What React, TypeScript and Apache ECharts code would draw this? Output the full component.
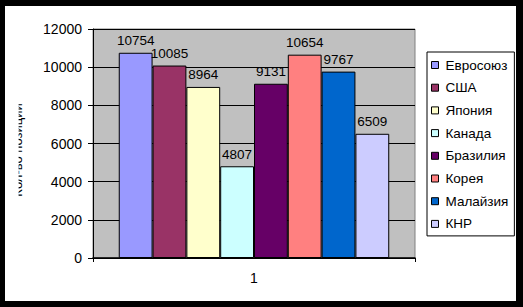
import React, { useEffect, useRef } from "react";
import * as echarts from "echarts";

const categories = ["1"];
const seriesNames = ["Евросоюз", "США", "Япония", "Канада", "Бразилия", "Корея", "Малайзия", "КНР"];
const seriesValues = [10754, 10085, 8964, 4807, 9131, 10654, 9767, 6509];
const seriesColors = ["#9999FF", "#993366", "#FFFFCC", "#CCFFFF", "#660066", "#FF8080", "#0066CC", "#CCCCFF"];
const yAxisTitle = "Кол-во позиций";

export default function App() {
  const ref = useRef<HTMLDivElement>(null);
  useEffect(() => {
    if (!ref.current) return;
    const chart = echarts.init(ref.current, null, { renderer: "svg" });
    const font = "Liberation Sans, Arial, sans-serif";
    chart.setOption({
      animation: false,
      backgroundColor: "transparent",
      textStyle: { fontFamily: font },
      grid: {
        left: 93,
        top: 29,
        right: 108,
        bottom: 49,
        show: true,
        backgroundColor: "#C0C0C0",
        borderColor: "#808080",
        borderWidth: 1,
      },
      legend: {
        orient: "vertical",
        left: 427,
        top: 52,
        width: 86,
        padding: [6, 6, 5, 4],
        itemGap: 8.7,
        itemWidth: 7,
        itemHeight: 7,
        icon: "rect",
        backgroundColor: "#fff",
        borderColor: "#000",
        borderWidth: 1,
        borderRadius: 0,
        itemStyle: { borderColor: "#000", borderWidth: 1 },
        textStyle: { fontSize: 13.5, color: "#000", fontFamily: font, padding: [0, 0, 0, 2] },
        data: seriesNames,
      },
      xAxis: {
        type: "category",
        data: categories,
        axisLine: { lineStyle: { color: "#000", width: 1.5 } },
        axisTick: { show: true, length: 4, lineStyle: { color: "#000" } },
        axisLabel: { fontSize: 14, color: "#000", margin: 13, fontFamily: font },
      },
      yAxis: {
        type: "value",
        min: 0,
        max: 12000,
        interval: 2000,
        axisLine: { show: true, lineStyle: { color: "#000" } },
        axisTick: { show: true, length: 5, lineStyle: { color: "#000" } },
        axisLabel: {
          fontSize: 14,
          color: "#000",
          margin: 11,
          fontFamily: font,
          formatter: (v: number) => String(v),
        },
        splitLine: { lineStyle: { color: "#000", width: 1 } },
      },
      graphic: [
        {
          type: "text",
          x: 17.8,
          y: 150,
          rotation: Math.PI / 2,
          z: 50,
          style: {
            text: yAxisTitle,
            fontSize: 13,
            fontFamily: font,
            fill: "#000",
            align: "center",
            verticalAlign: "middle",
          },
        },
        {
          type: "rect",
          z: 60,
          shape: { x: 5, y: 90, width: 13.6, height: 120 },
          style: { fill: "#fff" },
        },
      ],
      series: seriesNames.map((name, i) => ({
        name,
        type: "bar",
        data: [seriesValues[i]],
        barGap: 0,
        barCategoryGap: "16%",
        itemStyle: { color: seriesColors[i], borderColor: "#000", borderWidth: 1 },
        label: {
          show: true,
          position: "top",
          distance: 5,
          fontSize: 13.5,
          color: "#000",
          fontFamily: font,
        },
      })),
    });
    return () => chart.dispose();
  }, []);
  return (
    <div style={{ position: "fixed", left: 0, top: 0, width: 523, height: 307, background: "#000" }}>
      <div style={{ position: "absolute", left: 5, top: 6, width: 511, height: 295, background: "#fff" }} />
      <div ref={ref} style={{ position: "absolute", left: 0, top: 0, width: 523, height: 307 }} />
    </div>
  );
}
